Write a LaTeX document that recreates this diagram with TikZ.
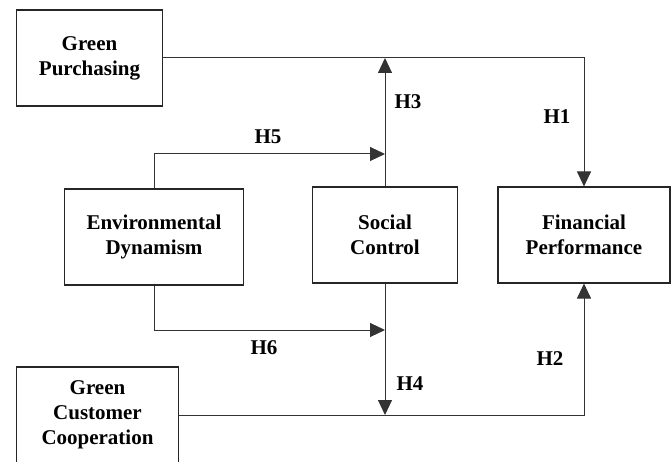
\documentclass[tikz,border=0pt]{standalone}
\usepackage{fontspec}
\setmainfont{Liberation Serif}
\usetikzlibrary{arrows.meta}
\tikzset{
  box/.style={draw=black!85, line width=1.1pt, minimum height=96pt, inner sep=0pt, align=center,
              font=\fontsize{21}{25}\selectfont\bfseries},
  conn/.style={draw=black!80, line width=1pt},
  arr/.style={conn, -{Triangle[length=15pt,width=14pt]}},
  hlab/.style={font=\fontsize{21}{25}\selectfont\bfseries, inner sep=0pt}
}
\begin{document}
\begin{tikzpicture}[x=1pt,y=-1pt]
\path[use as bounding box, clip] (0,0) rectangle (671,462);
\fill[white] (0,0) rectangle (671,462);
\node[box, minimum width=146pt] (gp) at (89.5,58) {Green\\Purchasing};
\node[box, minimum width=179pt] (ed) at (154,237) {Environmental\\Dynamism};
\node[box, minimum width=145pt] (sc) at (385,235) {Social\\Control};
\node[box, minimum width=172pt] (fp) at (584,235) {Financial\\Performance};
\node[box, minimum width=162pt] (gcc) at (97.5,415) {Green\\Customer\\Cooperation};
\coordinate (h5) at (385,154);
\coordinate (h6) at (385,330);
\draw[arr] (gp.east) -| (fp.north);
\draw[arr] (sc.north) -- (sc.north |- gp.east);
\draw[arr] (ed.north) |- (h5);
\draw[arr] (ed.south) |- (h6);
\draw[arr] (sc.south) -- (sc.south |- gcc.east);
\draw[arr] (gcc.east) -| (fp.south);
\node[hlab] (l1) at (557,117) {H1};
\node[hlab] (l2) at (550,359) {H2};
\node[hlab] (l3) at (408,102) {H3};
\node[hlab] (l4) at (410,384) {H4};
\node[hlab] (l5) at (268,137) {H5};
\node[hlab] (l6) at (264,348) {H6};
\end{tikzpicture}
\end{document}
